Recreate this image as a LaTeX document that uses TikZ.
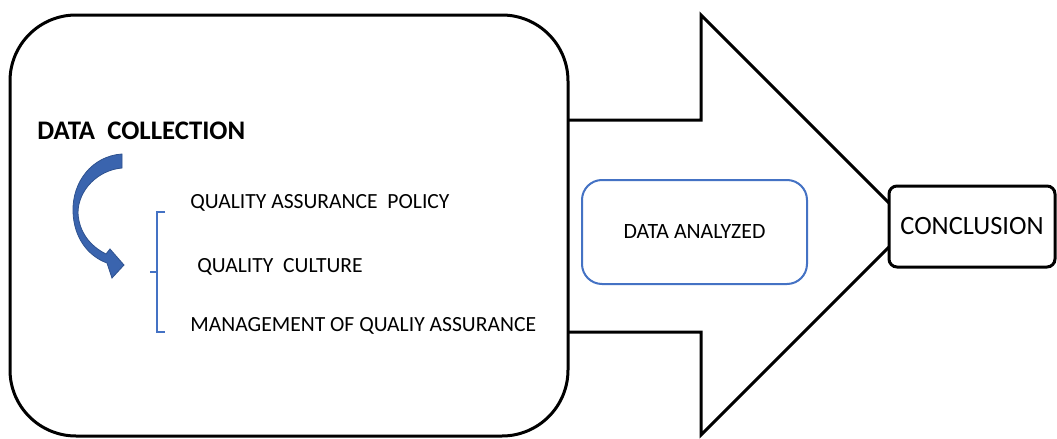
\documentclass[tikz,border=0pt]{standalone}
\usepackage{fontspec}
\setmainfont{Carlito}
\usetikzlibrary{positioning}
\definecolor{officeblue}{HTML}{4472C4}
\definecolor{arrowblue}{HTML}{3A64AE}
\definecolor{edgeblue}{HTML}{2F528F}
\tikzset{
  frame/.style={draw, line width=1.5pt, fill=white},
  item/.style={anchor=west, inner sep=0pt, font=\fontsize{10.8}{13}\selectfont},
  title/.style={anchor=west, inner sep=0pt, font=\fontsize{13.4}{15}\selectfont\bfseries},
}

\begin{document}
\begin{tikzpicture}[x=0.5pt, y=-0.5pt,
      stage/.style={draw=officeblue, line width=1pt, rounded corners=10pt, fill=white,
        minimum width=112.5pt, minimum height=52pt, font=\fontsize{10.9}{13}\selectfont},
      result/.style={frame, rounded corners=4pt, minimum width=83pt, minimum height=40.5pt,
        font=\fontsize{13.2}{15}\selectfont}]
    \useasboundingbox (0,0) rectangle (1057,439);
    % block arrow behind everything
    \draw[frame, line join=miter] (560,120) -- (701,120) -- (701,15) -- (911,225)
      -- (701,435) -- (701,332) -- (560,332) -- cycle;
    % collection panel
    \draw[frame, rounded corners=33pt] (10,15) rectangle (568,436);
    \node[title] (coll) at (37,131) {DATA\ \ COLLECTION};
    % curved arrow
    \filldraw[fill=arrowblue, draw=edgeblue, line width=0.4pt]
      (122,154) .. controls (92,156) and (72,182) .. (73,212)
      .. controls (74,238) and (88,256) .. (107,263)
      -- (112,278) -- (124,265) -- (110,249) -- (106,254)
      .. controls (90,246) and (79,232) .. (78,213)
      .. controls (78,190) and (98,170) .. (122,168) -- cycle;
    % bracket and items
    \draw[officeblue, line width=0.6pt] (165,212) -- (157,212) -- (157,332) -- (165,332);
    \draw[officeblue, line width=0.6pt] (157,272) -- (150,272);
    \node[item] (pol) at (190,203) {QUALITY ASSURANCE\ \ POLICY};
    \node[item] (cult) at (197,267) {QUALITY\ \ CULTURE};
    \node[item] (mgmt) at (190,326) {MANAGEMENT OF QUALIY ASSURANCE};
    \node[stage] (anl) at (694.5,232) {DATA ANALYZED};
    \node[result] (conc) at (972,226.5) {CONCLUSION};
  \end{tikzpicture}
\end{document}
